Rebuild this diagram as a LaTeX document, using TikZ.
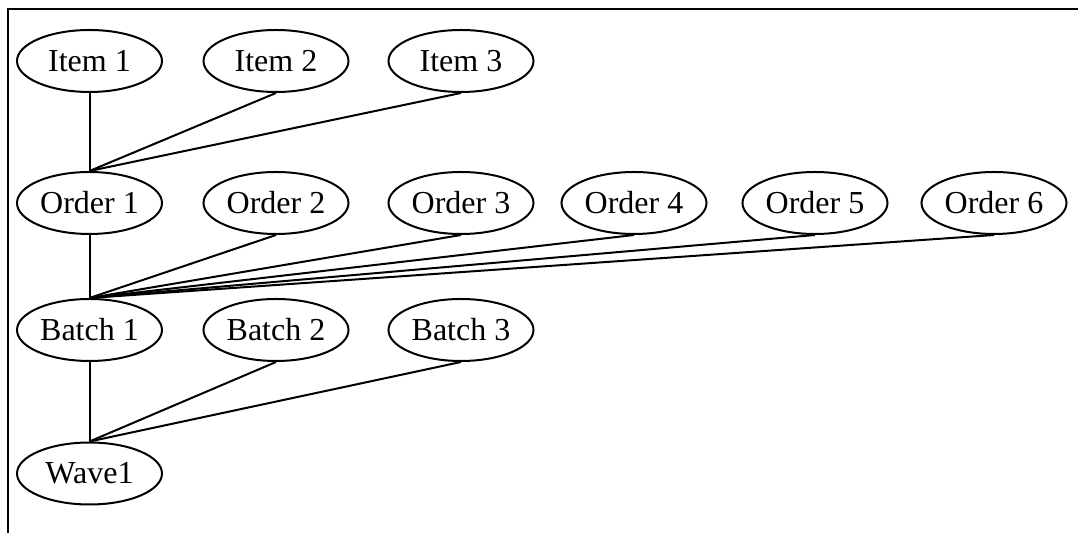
\documentclass[tikz,border=0pt]{standalone}
\usepackage{fontspec}
\setmainfont{Liberation Serif}
\usetikzlibrary{shapes.geometric}
\begin{document}
\begin{tikzpicture}[x=0.5pt,y=0.5pt,
  nd/.style={draw, ellipse, line width=1pt, minimum width=72.5pt, minimum height=31pt, inner sep=0pt, font=\fontsize{16}{19}\selectfont},
  ln/.style={line width=1pt}]
\useasboundingbox (0,0) rectangle (1078,-533);
\draw[line width=1pt] (8,-533) -- (8,-9.5) -- (1078,-9.5);
% rows
\node[nd] (i1) at (89.5,-61) {Item 1};
\node[nd] (i2) at (276,-61) {Item 2};
\node[nd] (i3) at (461,-61) {Item 3};
\node[nd] (o1) at (89.5,-203) {Order 1};
\node[nd] (o2) at (276,-203) {Order 2};
\node[nd] (o3) at (461,-203) {Order 3};
\node[nd] (o4) at (634,-203) {Order 4};
\node[nd] (o5) at (815,-203) {Order 5};
\node[nd] (o6) at (994,-203) {Order 6};
\node[nd] (b1) at (89.5,-330) {Batch 1};
\node[nd] (b2) at (276,-330) {Batch 2};
\node[nd] (b3) at (461,-330) {Batch 3};
\node[nd] (w1) at (89.5,-473.5) {Wave1};
% connectors
\foreach \c in {i1,i2,i3} \draw[ln] (\c.south) -- (o1.north);
\foreach \c in {o1,o2,o3,o4,o5,o6} \draw[ln] (\c.south) -- (b1.north);
\foreach \c in {b1,b2,b3} \draw[ln] (\c.south) -- (w1.north);
\end{tikzpicture}
\end{document}
